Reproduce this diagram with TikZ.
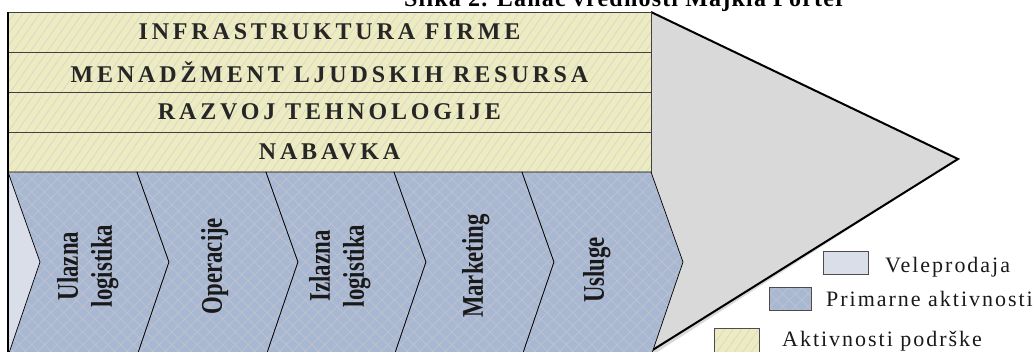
\documentclass[tikz,border=0pt]{standalone}
\usepackage{fontspec}
\setmainfont{Liberation Serif}
\newfontfamily\supportfont[LetterSpace=16]{Liberation Serif}
\newfontfamily\legendfont[LetterSpace=9]{Liberation Serif}
\newfontfamily\titlefont[LetterSpace=5]{Liberation Serif}
\usetikzlibrary{patterns.meta}
\definecolor{vcgray}{RGB}{217,217,217}
\definecolor{vclight}{RGB}{218,222,232}
\definecolor{vcblue}{RGB}{168,184,211}
\definecolor{vchatchblue}{RGB}{190,193,205}
\definecolor{vcyellow}{RGB}{237,236,192}
\definecolor{vchatchyel}{RGB}{218,218,206}
\definecolor{vctext}{RGB}{38,38,38}
\newcommand{\chevlabel}[1]{\scalebox{0.76}[1]{\begin{tabular}{@{}c@{}}#1\end{tabular}}}

\begin{document}
\begin{tikzpicture}[
  x=1pt, y=-1pt,
  yellowfill/.style={preaction={fill=vcyellow},
    pattern={Lines[angle=55,distance=7pt,line width=0.9pt]}, pattern color=vchatchyel},
  bluefill/.style={preaction={fill=vcblue},
    pattern={Hatch[angle=45,distance=9pt,line width=0.8pt]}, pattern color=vchatchblue},
  support/.style={rectangle, yellowfill, draw=black!75, line width=0.9pt,
    minimum width=643pt, minimum height=40pt, inner sep=0pt,
    font=\supportfont\bfseries\fontsize{24}{28}\selectfont, text=vctext},
  chevron/.style={bluefill, draw=black, line width=0.7pt},
  primary/.style={rotate=90, inner sep=0pt, text=black!90,
    font=\bfseries\fontsize{30}{34}\selectfont},
  legbox/.style={rectangle, draw=black!70, line width=0.9pt, inner sep=0pt},
  legtext/.style={inner sep=0pt, anchor=base west, text=black!90,
    font=\legendfont\fontsize{22}{25}\selectfont}
]
\useasboundingbox (0,0) rectangle (1035,351);

% Margin triangle behind everything
\fill[vcgray] (651,12) -- (958,159) -- (651,356) -- cycle;
\draw[line width=2pt, line join=miter] (651,12) -- (958,159) -- (651,351);

% Title, cut off at the top edge
\node[font=\titlefont\bfseries\fontsize{24}{28}\selectfont, anchor=base] (title) at (625,6) {Slika 2. Lanac vrednosti Majkla Porter};

% Support activities
\node[support] (infra) at (329.5,32) {INFRASTRUKTURA FIRME};
\node[support] (hr) at (329.5,72) {MENAD\v{Z}MENT LJUDSKIH RESURSA};
\node[support] (tech) at (329.5,112) {RAZVOJ TEHNOLOGIJE};
\node[support] (nab) at (329.5,152) {NABAVKA};

% Primary activities
\fill[vclight] (8,172) -- (40,262) -- (8,356) -- cycle;
\foreach \xa/\xb in {8/137, 137/266, 266/394, 394/522, 522/651}
  \draw[chevron] (\xa,172) -- (\xb,172) -- (\xb+32,262) -- (\xb,356) -- (\xa,356) -- (\xa+32,262) -- cycle;
\draw[line width=1.8pt] (8,12) -- (8,356);

\node[primary] (ulaz) at (88,266) {\chevlabel{Ulazna\\logistika}};
\node[primary] (oper) at (215,266) {\chevlabel{Operacije}};
\node[primary] (izlaz) at (340,266) {\chevlabel{Izlazna\\logistika}};
\node[primary] (mark) at (476,266) {\chevlabel{Marketing}};
\node[primary] (usl) at (597,270) {\chevlabel{Usluge}};

% Legend
\node[legbox, fill=vclight, minimum width=45pt, minimum height=23pt] (vbox) at (845.5,262.5) {};
\node[legtext] (vtext) at (885,272.5) {Veleprodaja};
\node[legbox, bluefill, minimum width=42pt, minimum height=23pt] (pbox) at (790,298.5) {};
\node[legtext] (ptext) at (826,306.5) {Primarne aktivnosti};
\node[legbox, yellowfill, minimum width=45pt, minimum height=26pt] (abox) at (736.5,341) {};
\node[legtext] (atext) at (782,346.5) {Aktivnosti podr\v{s}ke};
\end{tikzpicture}
\end{document}
